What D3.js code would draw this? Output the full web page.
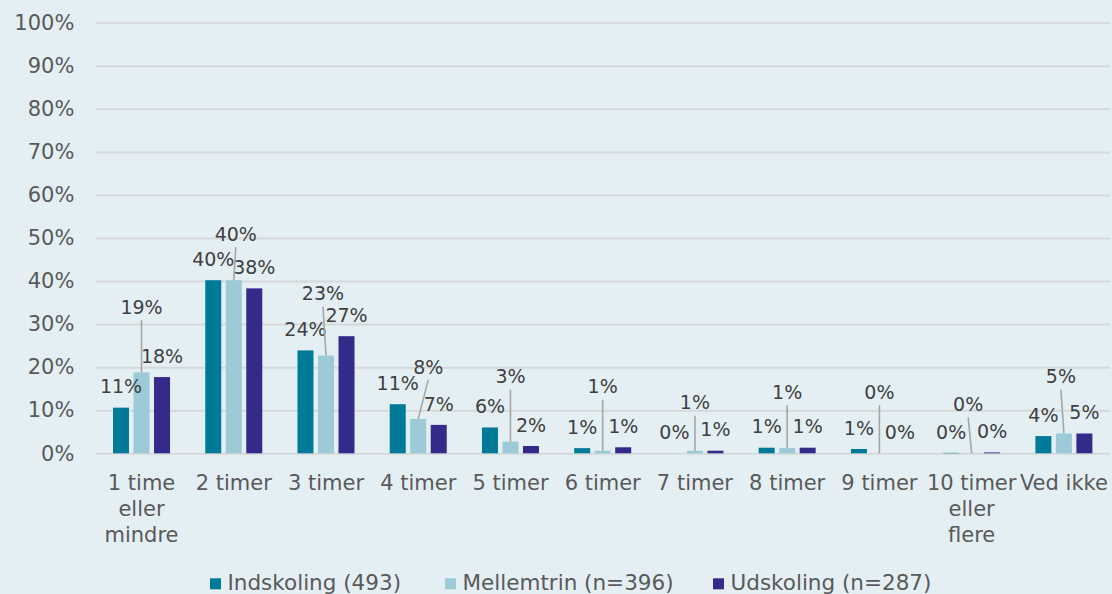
<!DOCTYPE html>
<html>
<head>
<meta charset="utf-8">
<script src="https://cdn.jsdelivr.net/npm/d3@7"></script>
<style>
  html, body { margin: 0; padding: 0; background: #e4eff4; }
  svg { display: block; font-family: "DejaVu Sans", Verdana, sans-serif; }
</style>
</head>
<body>
<svg id="chart" width="1112" height="594"></svg>
<script>
// Hours per category, share of pupils (%) in each school stage
const categories = ["1 time eller mindre", "2 timer", "3 timer", "4 timer", "5 timer", "6 timer",
                    "7 timer", "8 timer", "9 timer", "10 timer eller flere", "Ved ikke"];
const seriesNames = ["Indskoling (493)", "Mellemtrin (n=396)", "Udskoling (n=287)"];
const indskoling = [10.6, 40.2, 23.9, 11.4, 6.0, 1.2, 0.0, 1.3, 1.0, 0.1, 4.0];
const mellemtrin = [18.8, 40.2, 22.7, 8.0, 2.7, 0.6, 0.6, 1.2, 0.0, 0.05, 4.6];
const udskoling  = [17.7, 38.3, 27.2, 6.6, 1.7, 1.4, 0.6, 1.3, 0.0, 0.2, 4.6];
const yTicks = [0, 10, 20, 30, 40, 50, 60, 70, 80, 90, 100];

// Callout placement for the middle series labels: [dx, rise above bar top] in px
const calloutPlacement = [[0, 65], [2, 46], [-3, 62], [10, 52], [0, 65], [0, 64],
                          [0, 48], [0, 56], [0, 61], [-3.5, 49], [-3, 57]];

const colors = ["#007a99", "#9ccad7", "#332a8a"];
const series = [indskoling, mellemtrin, udskoling];

const svg = d3.select("#chart");
const plot = { left: 95.4, right: 1110, top: 22.7, bottom: 453.3 };

const x = d3.scaleBand().domain(d3.range(categories.length))
  .range([plot.left, plot.right]).paddingInner(0).paddingOuter(0);
const groupWidth = 57;
const xs = d3.scaleBand().domain(d3.range(series.length))
  .range([-groupWidth / 2, groupWidth / 2]).paddingInner(0.22).paddingOuter(0);
const y = d3.scaleLinear().domain([0, 100]).range([plot.bottom, plot.top]);

// Gridlines + y labels
const yAxis = d3.axisLeft(y).tickValues(yTicks).tickFormat(d => d + "%")
  .tickSize(-(plot.right - plot.left)).tickPadding(21);
const gy = svg.append("g").attr("transform", `translate(${plot.left},0)`).call(yAxis);
gy.select(".domain").remove();
gy.selectAll(".tick line").attr("stroke", "#d6d9da").attr("stroke-width", 2);
gy.selectAll(".tick text").attr("fill", "#595959").attr("font-size", 21)
  .attr("font-family", "DejaVu Sans, Verdana, sans-serif");

// Bars
series.forEach((vals, si) => {
  svg.append("g").selectAll("rect").data(vals).join("rect")
    .attr("x", (d, i) => x(i) + x.bandwidth() / 2 + xs(si))
    .attr("width", xs.bandwidth())
    .attr("y", d => y(d))
    .attr("height", d => plot.bottom - y(d))
    .attr("fill", colors[si]);
});

// Value labels
const fmt = v => Math.round(v) + "%";
const labelFont = 19;
[0, 2].forEach(si => {
  svg.append("g").selectAll("text").data(series[si]).join("text")
    .attr("x", (d, i) => x(i) + x.bandwidth() / 2 + xs(si) + xs.bandwidth() / 2)
    .attr("y", d => y(d) - 21)
    .attr("dy", "0.35em")
    .attr("text-anchor", "middle")
    .attr("font-size", labelFont)
    .attr("fill", "#404040")
    .text(fmt);
});

// Middle series: lifted labels with leader lines
const mid = svg.append("g");
mellemtrin.forEach((d, i) => {
  const bx = x(i) + x.bandwidth() / 2 + xs(1) + xs.bandwidth() / 2;
  const by = y(d);
  const [dx, rise] = calloutPlacement[i];
  const lx = bx + dx, ly = by - rise;
  mid.append("line")
    .attr("x1", lx).attr("y1", ly + 13)
    .attr("x2", bx).attr("y2", by)
    .attr("stroke", "#a6a6a6").attr("stroke-width", 1.6);
  mid.append("text")
    .attr("x", lx).attr("y", ly).attr("dy", "0.35em")
    .attr("text-anchor", "middle")
    .attr("font-size", labelFont)
    .attr("fill", "#404040")
    .text(fmt(d));
});

// Category labels, wrapped to band width
const xAxis = d3.axisBottom(x).tickFormat(i => categories[i]).tickSize(0).tickPadding(0);
const gx = svg.append("g").attr("transform", `translate(0,${plot.bottom})`).call(xAxis);
gx.select(".domain").remove();
gx.selectAll(".tick text").attr("fill", "#595959").attr("font-size", 21)
  .attr("font-family", "DejaVu Sans, Verdana, sans-serif")
  .each(function (i) {
    const t = d3.select(this);
    const words = categories[i].split(" ");
    t.text(null);
    const lines = [];
    let cur = [];
    const probe = t.append("tspan");
    words.forEach(w => {
      const trial = cur.concat([w]).join(" ");
      probe.text(trial);
      if (cur.length && probe.node().getComputedTextLength() > x.bandwidth()) {
        lines.push(cur.join(" "));
        cur = [w];
      } else cur.push(w);
    });
    lines.push(cur.join(" "));
    probe.remove();
    t.attr("y", 0).attr("dy", null);
    lines.forEach((ln, k) => {
      t.append("tspan").attr("x", 0).attr("y", 36.5 + k * 26.2).text(ln);
    });
  });

// Legend
const legendX = [210, 445, 713];
const legend = svg.append("g");
seriesNames.forEach((name, si) => {
  legend.append("rect").attr("x", legendX[si]).attr("y", 578.3)
    .attr("width", 11).attr("height", 11).attr("fill", colors[si]);
  legend.append("text").attr("x", legendX[si] + 17.5).attr("y", 590)
    .attr("font-size", 21.5).attr("fill", "#595959").text(name);
});
</script>
</body>
</html>
